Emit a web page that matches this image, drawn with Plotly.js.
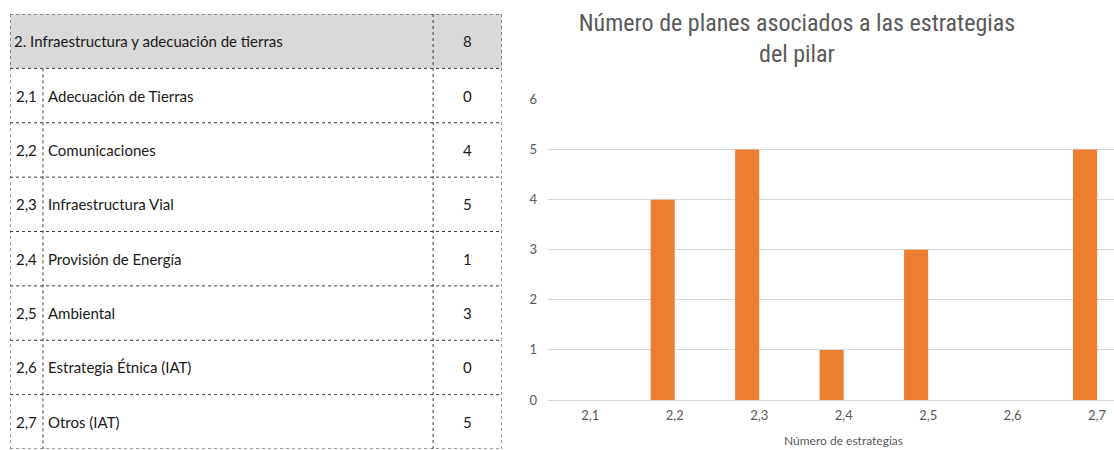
<!DOCTYPE html>
<html>
<head>
<meta charset="utf-8">
<script src="https://cdn.plot.ly/plotly-3.0.1.min.js"></script>
<style>html,body{margin:0;padding:0;background:#fff;}#chart{width:1114px;height:450px;}</style>
</head>
<body>
<div id="chart"></div>
<script>
// ---- data ----
const headerLabel = "2. Infraestructura y adecuación de tierras";
const headerValue = 8;
const codes = ["2,1", "2,2", "2,3", "2,4", "2,5", "2,6", "2,7"];
const names = ["Adecuación de Tierras", "Comunicaciones", "Infraestructura Vial", "Provisión de Energía", "Ambiental", "Estrategia Étnica (IAT)", "Otros (IAT)"];
const planCounts = [0, 4, 5, 1, 3, 0, 5];
const yTicks = [0, 1, 2, 3, 4, 5, 6];
const chartTitle = "Número de planes asociados a las estrategias<br>del pilar";
const xTitle = "Número de estrategias";

// ---- styling / layout constants ----
const W = 1114, H = 450;
const FONT = "Lato, sans-serif";
const TITLE_FONT = "'Roboto Condensed', 'DejaVu Sans Condensed', 'Liberation Sans Narrow', Lato, sans-serif";
const textColor = "#595959";
const barColor = "#ED7D31";
const gridColor = "#D9D9D9";
const borderColor = "#3a3a3a";
const colEdges = [0, 0.067, 0.86, 1]; // fractions across table width
const nRows = codes.length + 1;

const shapes = [];
const annotations = [];

// header background
shapes.push({type: "rect", xref: "x2", yref: "y2", x0: 0, x1: 1, y0: 0, y1: 1,
  fillcolor: "#D9D9D9", line: {width: 0}, layer: "below"});
// horizontal borders
for (let r = 0; r <= nRows; r++) {
  shapes.push({type: "line", xref: "x2", yref: "y2", x0: 0, x1: 1, y0: r, y1: r,
    line: {color: borderColor, width: 1, dash: "dot"}});
}
// vertical borders
[colEdges[0], colEdges[2], colEdges[3]].forEach(xv => {
  shapes.push({type: "line", xref: "x2", yref: "y2", x0: xv, x1: xv, y0: 0, y1: nRows,
    line: {color: borderColor, width: 1, dash: "dot"}});
});
shapes.push({type: "line", xref: "x2", yref: "y2", x0: colEdges[1], x1: colEdges[1], y0: 1, y1: nRows,
  line: {color: borderColor, width: 1, dash: "dot"}});

const cellFont = {family: FONT, size: 15, color: "#1a1a1a"};
annotations.push({xref: "x2", yref: "y2", x: 0.004, y: 0.5, text: headerLabel, showarrow: false,
  xanchor: "left", yanchor: "middle", font: cellFont});
annotations.push({xref: "x2", yref: "y2", x: (colEdges[2] + colEdges[3]) / 2, y: 0.5, text: String(headerValue),
  showarrow: false, xanchor: "center", yanchor: "middle", font: cellFont});
codes.forEach((c, i) => {
  const yy = i + 1.5;
  annotations.push({xref: "x2", yref: "y2", x: (colEdges[0] + colEdges[1]) / 2, y: yy, text: c, showarrow: false,
    xanchor: "center", yanchor: "middle", font: cellFont});
  annotations.push({xref: "x2", yref: "y2", x: colEdges[1] + 0.006, y: yy, text: names[i], showarrow: false,
    xanchor: "left", yanchor: "middle", font: cellFont});
  annotations.push({xref: "x2", yref: "y2", x: (colEdges[2] + colEdges[3]) / 2, y: yy, text: String(planCounts[i]),
    showarrow: false, xanchor: "center", yanchor: "middle", font: cellFont});
});

// x axis title, kept low as in the reference but fully readable
annotations.push({xref: "paper", yref: "paper", x: 843 / W, y: 0, text: xTitle, showarrow: false,
  xanchor: "center", yanchor: "bottom", font: {family: FONT, size: 12, color: textColor}});

const traces = [{
  type: "bar",
  x: codes,
  y: planCounts,
  marker: {color: barColor},
  width: 0.285,
  offset: -0.285,
  hoverinfo: "x+y",
  xaxis: "x",
  yaxis: "y"
}];

const layout = {
  width: W, height: H,
  margin: {l: 0, r: 0, t: 0, b: 0, pad: 0},
  paper_bgcolor: "#fff",
  plot_bgcolor: "rgba(0,0,0,0)",
  showlegend: false,
  title: {text: chartTitle, x: 797 / W, xanchor: "center", xref: "paper",
    y: 1 - 31 / H, yanchor: "top", yref: "paper",
    font: {family: TITLE_FONT, size: 24, color: textColor}},
  xaxis: {
    domain: [548 / W, 1],
    type: "category",
    range: [-0.5, 6.2],
    showgrid: false, zeroline: false, showline: false,
    ticks: "", ticklabelstandoff: 6,
    tickfont: {family: FONT, size: 13, color: textColor},
    fixedrange: true
  },
  yaxis: {
    domain: [(H - 400) / H, (H - 99.5) / H],
    range: [0, 6],
    tickvals: yTicks,
    showgrid: true, gridcolor: gridColor, gridwidth: 1,
    zeroline: true, zerolinecolor: gridColor, zerolinewidth: 1,
    showline: false, ticks: "", ticklabelstandoff: 10,
    tickfont: {family: FONT, size: 13, color: textColor},
    fixedrange: true
  },
  xaxis2: {domain: [10 / W, 502 / W], range: [0, 1], visible: false, fixedrange: true, anchor: "y2"},
  yaxis2: {domain: [(H - 449) / H, (H - 14) / H], range: [nRows, 0], visible: false, fixedrange: true, anchor: "x2"},
  shapes: shapes,
  annotations: annotations
};

Plotly.newPlot("chart", traces, layout, {displayModeBar: false, staticPlot: true});
</script>
</body>
</html>
